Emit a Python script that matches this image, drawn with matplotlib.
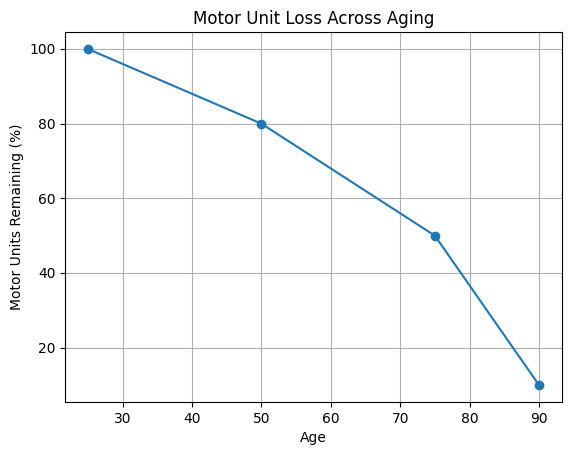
import matplotlib
matplotlib.use("Agg")
import matplotlib.pyplot as plt

ages = [25, 50, 75, 90]
remaining = [100, 80, 50, 10]

fig = plt.figure(figsize=(5.71, 4.55), dpi=100)
L, R, T, B = 65.4, 561.5, 32.2, 401.8
ax = fig.add_axes([L/571, 1 - B/455, (R - L)/571, (B - T)/455])
ax.plot(ages, remaining, marker='o')
ax.set_title('Motor Unit Loss Across Aging')
ax.set_xlabel('Age')
ax.set_ylabel('Motor Units Remaining (%)')
ax.grid(True)
fig.savefig('out.png', dpi=100)
